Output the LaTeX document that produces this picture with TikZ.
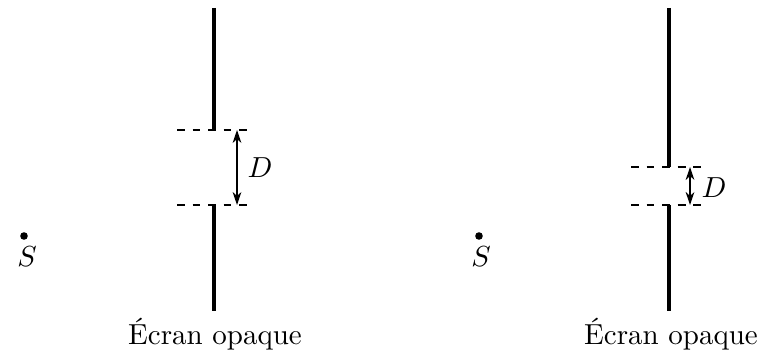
\documentclass[tikz,border=0pt]{standalone}
\usetikzlibrary{arrows.meta}
\begin{document}
\begin{tikzpicture}[x=0.345pt,y=-0.345pt,
  screen/.style={line width=1.2pt},
  edge/.style={dash pattern=on 2.75pt off 2.6pt,line width=0.4pt},
  gap/.style={<->,>={Stealth[length=4.5pt,width=3pt]},line width=0.4pt},
  lbl/.style={inner sep=0pt}]
\useasboundingbox (0,0) rectangle (760,356);
% left setup
\coordinate (L1) at (214,8);
\coordinate (L2) at (214,130);
\coordinate (L3) at (214,205);
\coordinate (L4) at (214,311);
\draw[screen] (L1) -- (L2);
\draw[screen] (L3) -- (L4);
\coordinate (LdA) at (177,130);
\coordinate (LdB) at (248,130);
\coordinate (LdC) at (177,205);
\coordinate (LdD) at (248,205);
\draw[edge] (LdA) -- (LdB);
\draw[edge] (LdC) -- (LdD);
\coordinate (LaT) at (237,130);
\coordinate (LaB) at (237,205);
\draw[gap] (LaT) -- (LaB);
\node[lbl] (LD) at (260,168) {$D$};
\fill (24,236) circle (3.8) coordinate (Ls);
\node[lbl] (LS) at (27,257) {$S$};
\node[lbl,anchor=base] (Lt) at (215,345) {Écran opaque};
% right setup
\coordinate (R1) at (669,8);
\coordinate (R2) at (669,167);
\coordinate (R3) at (669,205);
\coordinate (R4) at (669,311);
\draw[screen] (R1) -- (R2);
\draw[screen] (R3) -- (R4);
\coordinate (RdA) at (631,167);
\coordinate (RdB) at (702,167);
\coordinate (RdC) at (631,205);
\coordinate (RdD) at (702,205);
\draw[edge] (RdA) -- (RdB);
\draw[edge] (RdC) -- (RdD);
\coordinate (RaT) at (690,167);
\coordinate (RaB) at (690,205);
\draw[gap] (RaT) -- (RaB);
\node[lbl] (RD) at (714,188) {$D$};
\fill (479,236) circle (3.8) coordinate (Rs);
\node[lbl] (RS) at (481,257) {$S$};
\node[lbl,anchor=base] (Rt) at (671,345) {Écran opaque};
\end{tikzpicture}
\end{document}
